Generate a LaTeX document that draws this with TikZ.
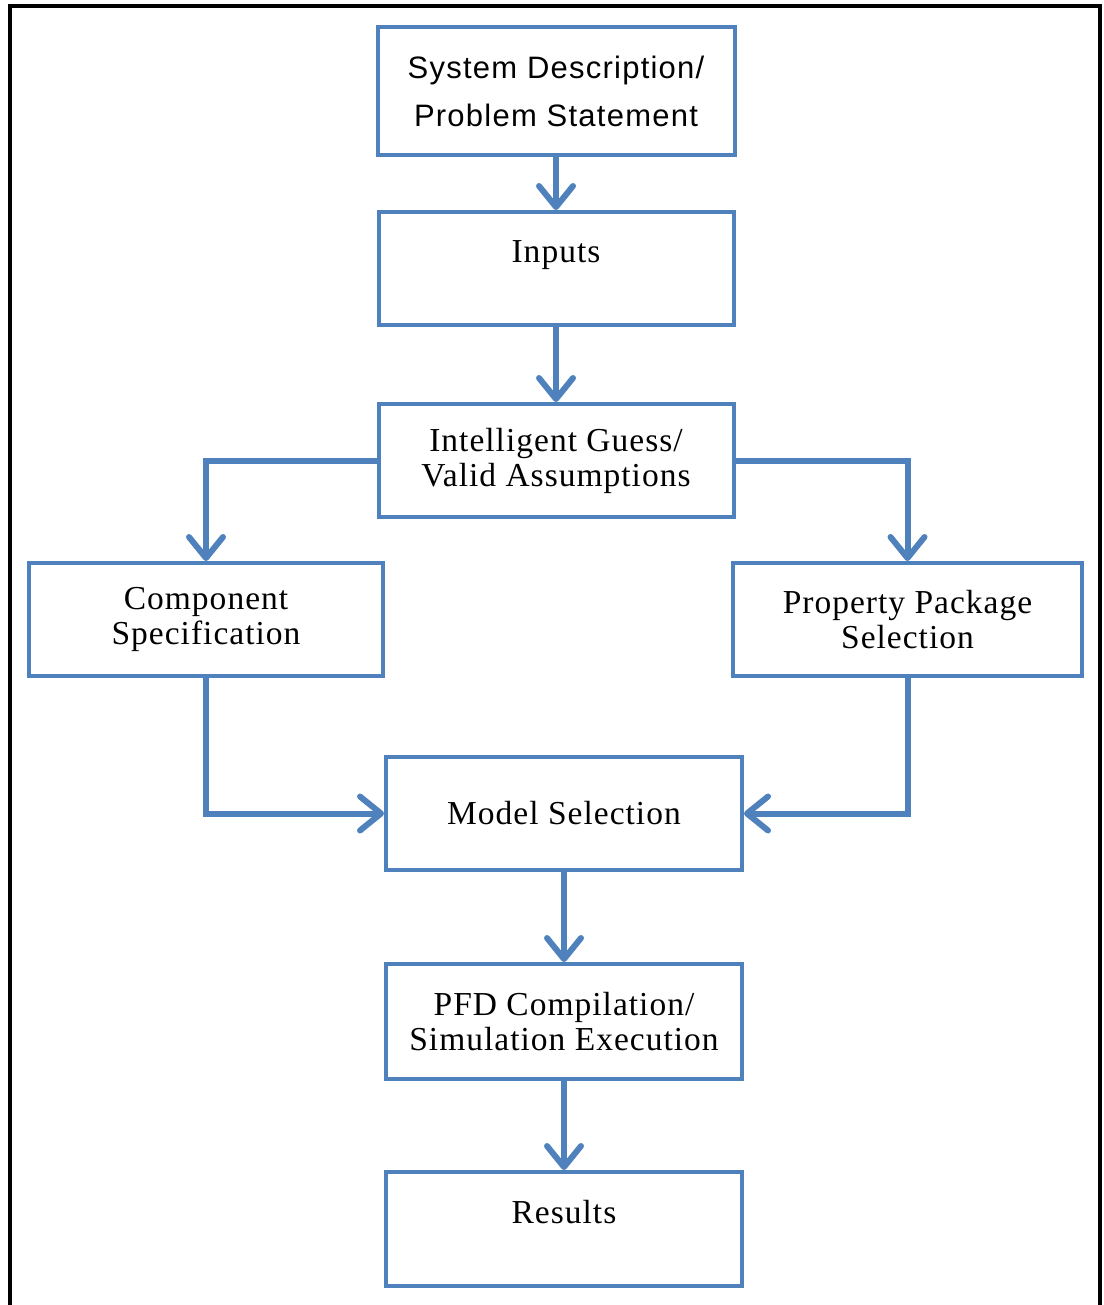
\documentclass[tikz,border=0pt]{standalone}
\usepackage{fontspec}
\setmainfont{Liberation Serif}
\newfontfamily\boxsans{Liberation Sans}[LetterSpace=4]
\newfontfamily\boxserif{Liberation Serif}[LetterSpace=3]
\usetikzlibrary{arrows.meta}
\definecolor{officeblue}{RGB}{79,129,189}
\tikzset{
  flowbox/.style={draw=officeblue, line width=4pt, rectangle, align=center,
    inner sep=0pt, font=\boxserif\fontsize{33.5}{35}\selectfont},
  sansbox/.style={flowbox, font=\boxsans\fontsize{31}{48}\selectfont},
  hightext/.style={text height=22pt, text depth=33pt},
  flowarrow/.style={draw=officeblue, line width=6pt, line join=miter,
    -{Straight Barb[length=21pt, width=34pt, round]}},
  frameline/.style={draw=black, line width=4pt}
}
\begin{document}
\begin{tikzpicture}[x=1pt, y=-1pt]
\useasboundingbox (0,0) rectangle (1103,1305);
\draw[frameline] (10,1310) -- (10,6) -- (1100,6) -- (1100,1310);

\node[sansbox, minimum width=357pt, minimum height=128pt] (sys) at (556,91)
  {System Description/\\Problem Statement};
\node[flowbox, hightext, minimum width=355pt, minimum height=113pt] (inp) at (556,268.5) {Inputs};
\node[flowbox, minimum width=355pt, minimum height=113pt] (guess) at (556,460.5)
  {Intelligent Guess/\\Valid Assumptions};
\node[flowbox, minimum width=354pt, minimum height=113pt] (comp) at (206,619.5)
  {Component\\Specification};
\node[flowbox, minimum width=349pt, minimum height=113pt] (prop) at (907.5,619.5)
  {Property Package\\Selection};
\node[flowbox, minimum width=356pt, minimum height=113pt] (model) at (564,813.5) {Model Selection};
\node[flowbox, minimum width=356pt, minimum height=115pt] (pfd) at (564,1021.5)
  {PFD Compilation/\\Simulation Execution};
\node[flowbox, hightext, minimum width=356pt, minimum height=114pt] (res) at (564,1229) {Results};

\draw[flowarrow] (sys.south) -- (inp.north);
\draw[flowarrow] (inp.south) -- (guess.north);
\draw[flowarrow] (guess.west) -| (comp.north);
\draw[flowarrow] (guess.east) -| (prop.north);
\draw[flowarrow] (comp.south) |- (model.west);
\draw[flowarrow] (prop.south) |- (model.east);
\draw[flowarrow] (model.south) -- (pfd.north);
\draw[flowarrow] (pfd.south) -- (res.north);
\end{tikzpicture}
\end{document}
